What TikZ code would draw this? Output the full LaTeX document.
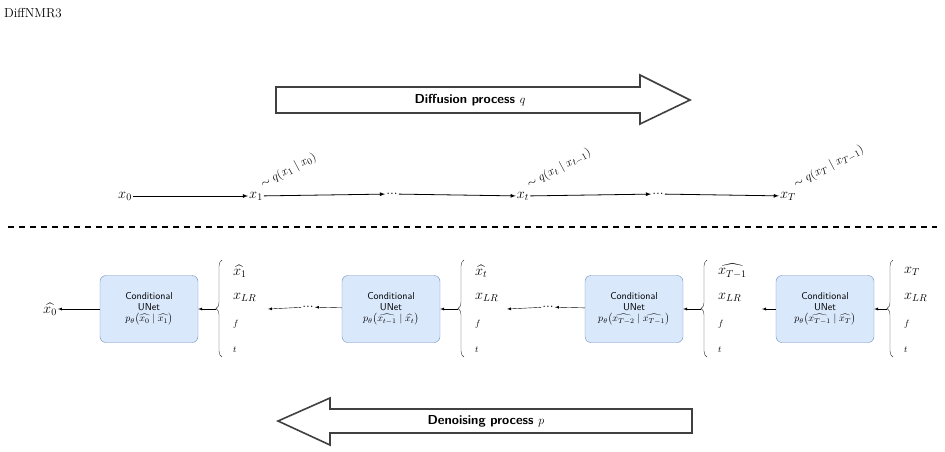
\documentclass[tikz,border=0pt]{standalone}
\usepackage{amsmath}
\usepackage{tikz}
\usetikzlibrary{calc,positioning,decorations.pathreplacing}
\definecolor{boxfill}{HTML}{DAE8FC}
\definecolor{boxline}{HTML}{6C8EBF}
\tikzset{
  unet/.style={draw=boxline,fill=boxfill,rounded corners=6pt,minimum width=98pt,minimum height=67pt,align=center,inner sep=1pt,font=\fontsize{10}{11}\selectfont\sffamily},
  var/.style={inner sep=1pt,font=\fontsize{14}{15}\selectfont},
  cond/.style={rotate=28,anchor=south west,inner sep=1pt,font=\fontsize{13}{14}\selectfont},
  item/.style={anchor=west,inner sep=1pt,font=\fontsize{14}{15}\selectfont},
  small/.style={anchor=west,inner sep=1pt,font=\fontsize{9}{10}\selectfont},
  fwd/.style={->,>=latex,thick},
  bwd/.style={->,>=latex},
  bigarrow/.style={draw=black!75,line width=1.6pt,fill=white}
}
\begin{document}
\begin{tikzpicture}[x=1pt,y=-1pt]
            \useasboundingbox (0,0) rectangle (945,451);
            \node[anchor=west,inner sep=0pt,font=\fontsize{13}{14}\selectfont] (title) at (4,13) {DiffNMR3};
            % Diffusion arrow
            \draw[bigarrow](276,87)--(640,87)--(640,75)--(690,100)--(640,124)--(640,113)--(276,113)--cycle;
            \node[font=\fontsize{13}{14}\selectfont\sffamily\bfseries] (diff) at (470,100) {Diffusion process $q$};
            % Forward chain
            \node[var] (f0) at (125,196) {$x_0$};
            \node[var] (f1) at (256,196) {$x_1$};
            \node[var] (fd1) at (392,194) {...};
            \node[var] (ft) at (523,196) {$x_t$};
            \node[var] (fd2) at (658,194) {...};
            \node[var] (fT) at (788,196) {$x_T$};
            \draw[fwd](f0)--(f1);
            \draw[fwd](f1)--(fd1);
            \draw[fwd](fd1)--(ft);
            \draw[fwd](ft)--(fd2);
            \draw[fwd](fd2)--(fT);
            \node[cond] at ($(f1.east)+(0,-4)$) {$\sim q(x_1 \mid x_0)$};
            \node[cond] at ($(ft.east)+(0,-4)$) {$\sim q(x_t \mid x_{t-1})$};
            \node[cond] at ($(fT.east)+(0,-4)$) {$\sim q(x_T \mid x_{T-1})$};
            % Separator
            \draw[line width=1.4pt,dash pattern=on 6pt off 5pt](8,227)--(937,227);
            % Denoising row
            \node[var] (r0) at (50,309) {$\widehat{x_0}$};
            \node[unet] (u1) at (149,309) {Conditional\\UNet\\$p_\theta\big(\widehat{x_0}\mid\widehat{x_1}\big)$};
            \node[unet] (u2) at (391,309) {Conditional\\UNet\\$p_\theta\big(\widehat{x_{t-1}}\mid\widehat{x_t}\big)$};
            \node[unet] (u3) at (634,309) {Conditional\\UNet\\$p_\theta\big(\widehat{x_{T-2}}\mid\widehat{x_{T-1}}\big)$};
            \node[unet] (u4) at (825,309) {Conditional\\UNet\\$p_\theta\big(\widehat{x_{T-1}}\mid\widehat{x_T}\big)$};
            % Condition sets
            \foreach \n/\bx/\top in {1/222/\widehat{x_1},2/464/\widehat{x_t},3/707/\widehat{x_{T-1}},4/893/x_T}{
              \coordinate (b\n t) at (\bx,260);
              \coordinate (b\n b) at (\bx,357);
              \coordinate (b\n) at (\bx,309);
              \draw[decorate,decoration={brace,amplitude=6pt},black!80](b\n b)--(b\n t);
              \node[item] (i\n a) at (\bx+10,271) {$\top$};
              \node[item] (i\n b) at (\bx+10,297) {$x_{LR}$};
              \node[small] (i\n c) at (\bx+10,324) {$f$};
              \node[small] (i\n d) at (\bx+10,350) {$t$};
            }
            \node[var] (d1) at (308,307) {...};
            \node[var] (d2) at (548,307) {...};
            \coordinate (e1) at ($(b1)+(46,0)$);
            \coordinate (e2) at ($(b2)+(43,0)$);
            \coordinate (e3) at ($(b3)+(55,0)$);
            \draw[bwd](u1)--(r0);
            \draw[bwd]($(b1)+(-6,0)$)--(u1);
            \draw[bwd](d1)--(e1);
            \draw[bwd](u2)--(d1);
            \draw[bwd]($(b2)+(-6,0)$)--(u2);
            \draw[bwd](d2)--(e2);
            \draw[bwd](u3)--(d2);
            \draw[bwd]($(b3)+(-6,0)$)--(u3);
            \draw[bwd](u4)--(e3);
            \draw[bwd]($(b4)+(-6,0)$)--(u4);
            % Denoising arrow
            \draw[bigarrow](692,409)--(330,409)--(330,398)--(278,421)--(330,445)--(330,433)--(692,433)--cycle;
            \node[font=\fontsize{13}{14}\selectfont\sffamily\bfseries] (den) at (486,421) {Denoising process $p$};
        \end{tikzpicture}
\end{document}
